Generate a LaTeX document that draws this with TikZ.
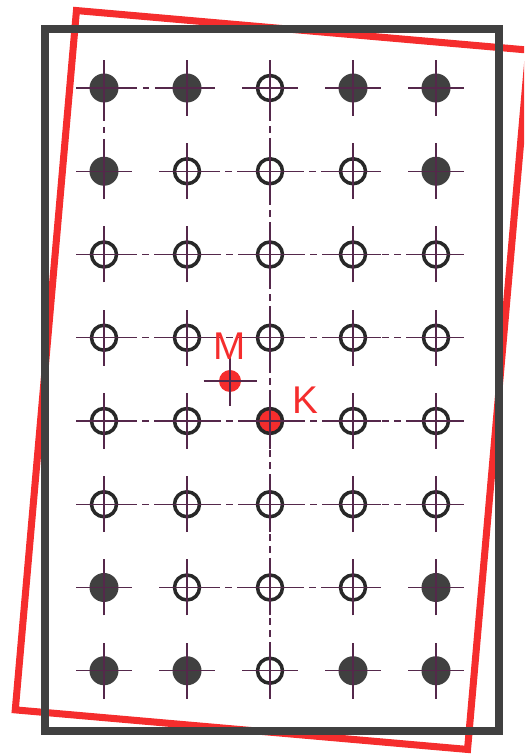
\documentclass[tikz,border=0pt]{standalone}
\usepackage{fontspec}
\setsansfont{Liberation Sans}

\begin{document}
\begin{tikzpicture}[
  holeF/.style={circle, fill=pinfill, minimum size=0.58cm, inner sep=0pt},
  holeO/.style={circle, draw=ringcolor, line width=2pt, fill=white, minimum size=0.50cm, inner sep=0pt},
  holeK/.style={holeO, fill=markred},
  crossline/.style={line width=0.8pt, crosscolor},
  centreline/.style={line width=0.8pt, crosscolor, dash pattern=on 0.13cm off 0.11cm},
  letter/.style={markred, font=\sffamily\fontsize{22}{26}\selectfont}
]

\definecolor{pinfill}{RGB}{64, 64, 64}
\definecolor{ringcolor}{RGB}{40, 40, 40}
\definecolor{crosscolor}{RGB}{85, 40, 75}
\definecolor{markred}{RGB}{245, 45, 45}
\definecolor{framegrey}{RGB}{64, 64, 64}

\useasboundingbox (0, 0) rectangle (10.48, 15.10);
\clip (0, 0) rectangle (10.48, 15.10);

\draw[line width=4pt, markred, rotate around={-5:(5.44, 7.50)}] (0.90, 0.48) rectangle (9.98, 14.52);
\draw[line width=4.5pt, framegrey] (0.90, 0.48) rectangle (9.98, 14.52);

\foreach \pattern [count=\r] in {{F,F,O,F,F},{F,O,O,O,F},{O,O,O,O,O},{O,O,O,O,O},{O,O,K,O,O},{O,O,O,O,O},{F,O,O,O,F},{F,F,O,F,F}}{
  \foreach \t [count=\c] in \pattern {
    \node[hole\t] (h-\r-\c) at ({2.08+(\c-1)*1.66}, {13.34-(\r-1)*1.665}) {};
  }
}

\draw[centreline] (h-1-1) -- (h-1-2);
\draw[centreline] (h-1-1) -- (h-2-1);
\draw[centreline] (h-2-2) -- (h-2-4);
\draw[centreline] (h-7-2) -- (h-7-4);
\draw[centreline] (h-1-3) -- (h-8-3);
\foreach \r in {3,...,6} \draw[centreline] (h-\r-1) -- (h-\r-5);

\foreach \r in {1,...,8} \foreach \c in {1,...,5} {
  \draw[crossline] ([xshift=-0.56cm]h-\r-\c.center) -- ([xshift=0.56cm]h-\r-\c.center);
  \draw[crossline] ([yshift=-0.56cm]h-\r-\c.center) -- ([yshift=0.56cm]h-\r-\c.center);
}

\node[circle, fill=markred, minimum size=0.44cm, inner sep=0pt] (mpin) at (4.60, 7.48) {};
\draw[crossline] ([xshift=-0.53cm]mpin.center) -- ([xshift=0.53cm]mpin.center);
\draw[crossline] ([yshift=-0.50cm]mpin.center) -- ([yshift=0.50cm]mpin.center);

\node[letter] (mlabel) at (4.60, 8.18) {M};
\node[letter] (klabel) at (6.10, 7.10) {K};

\end{tikzpicture}
\end{document}
